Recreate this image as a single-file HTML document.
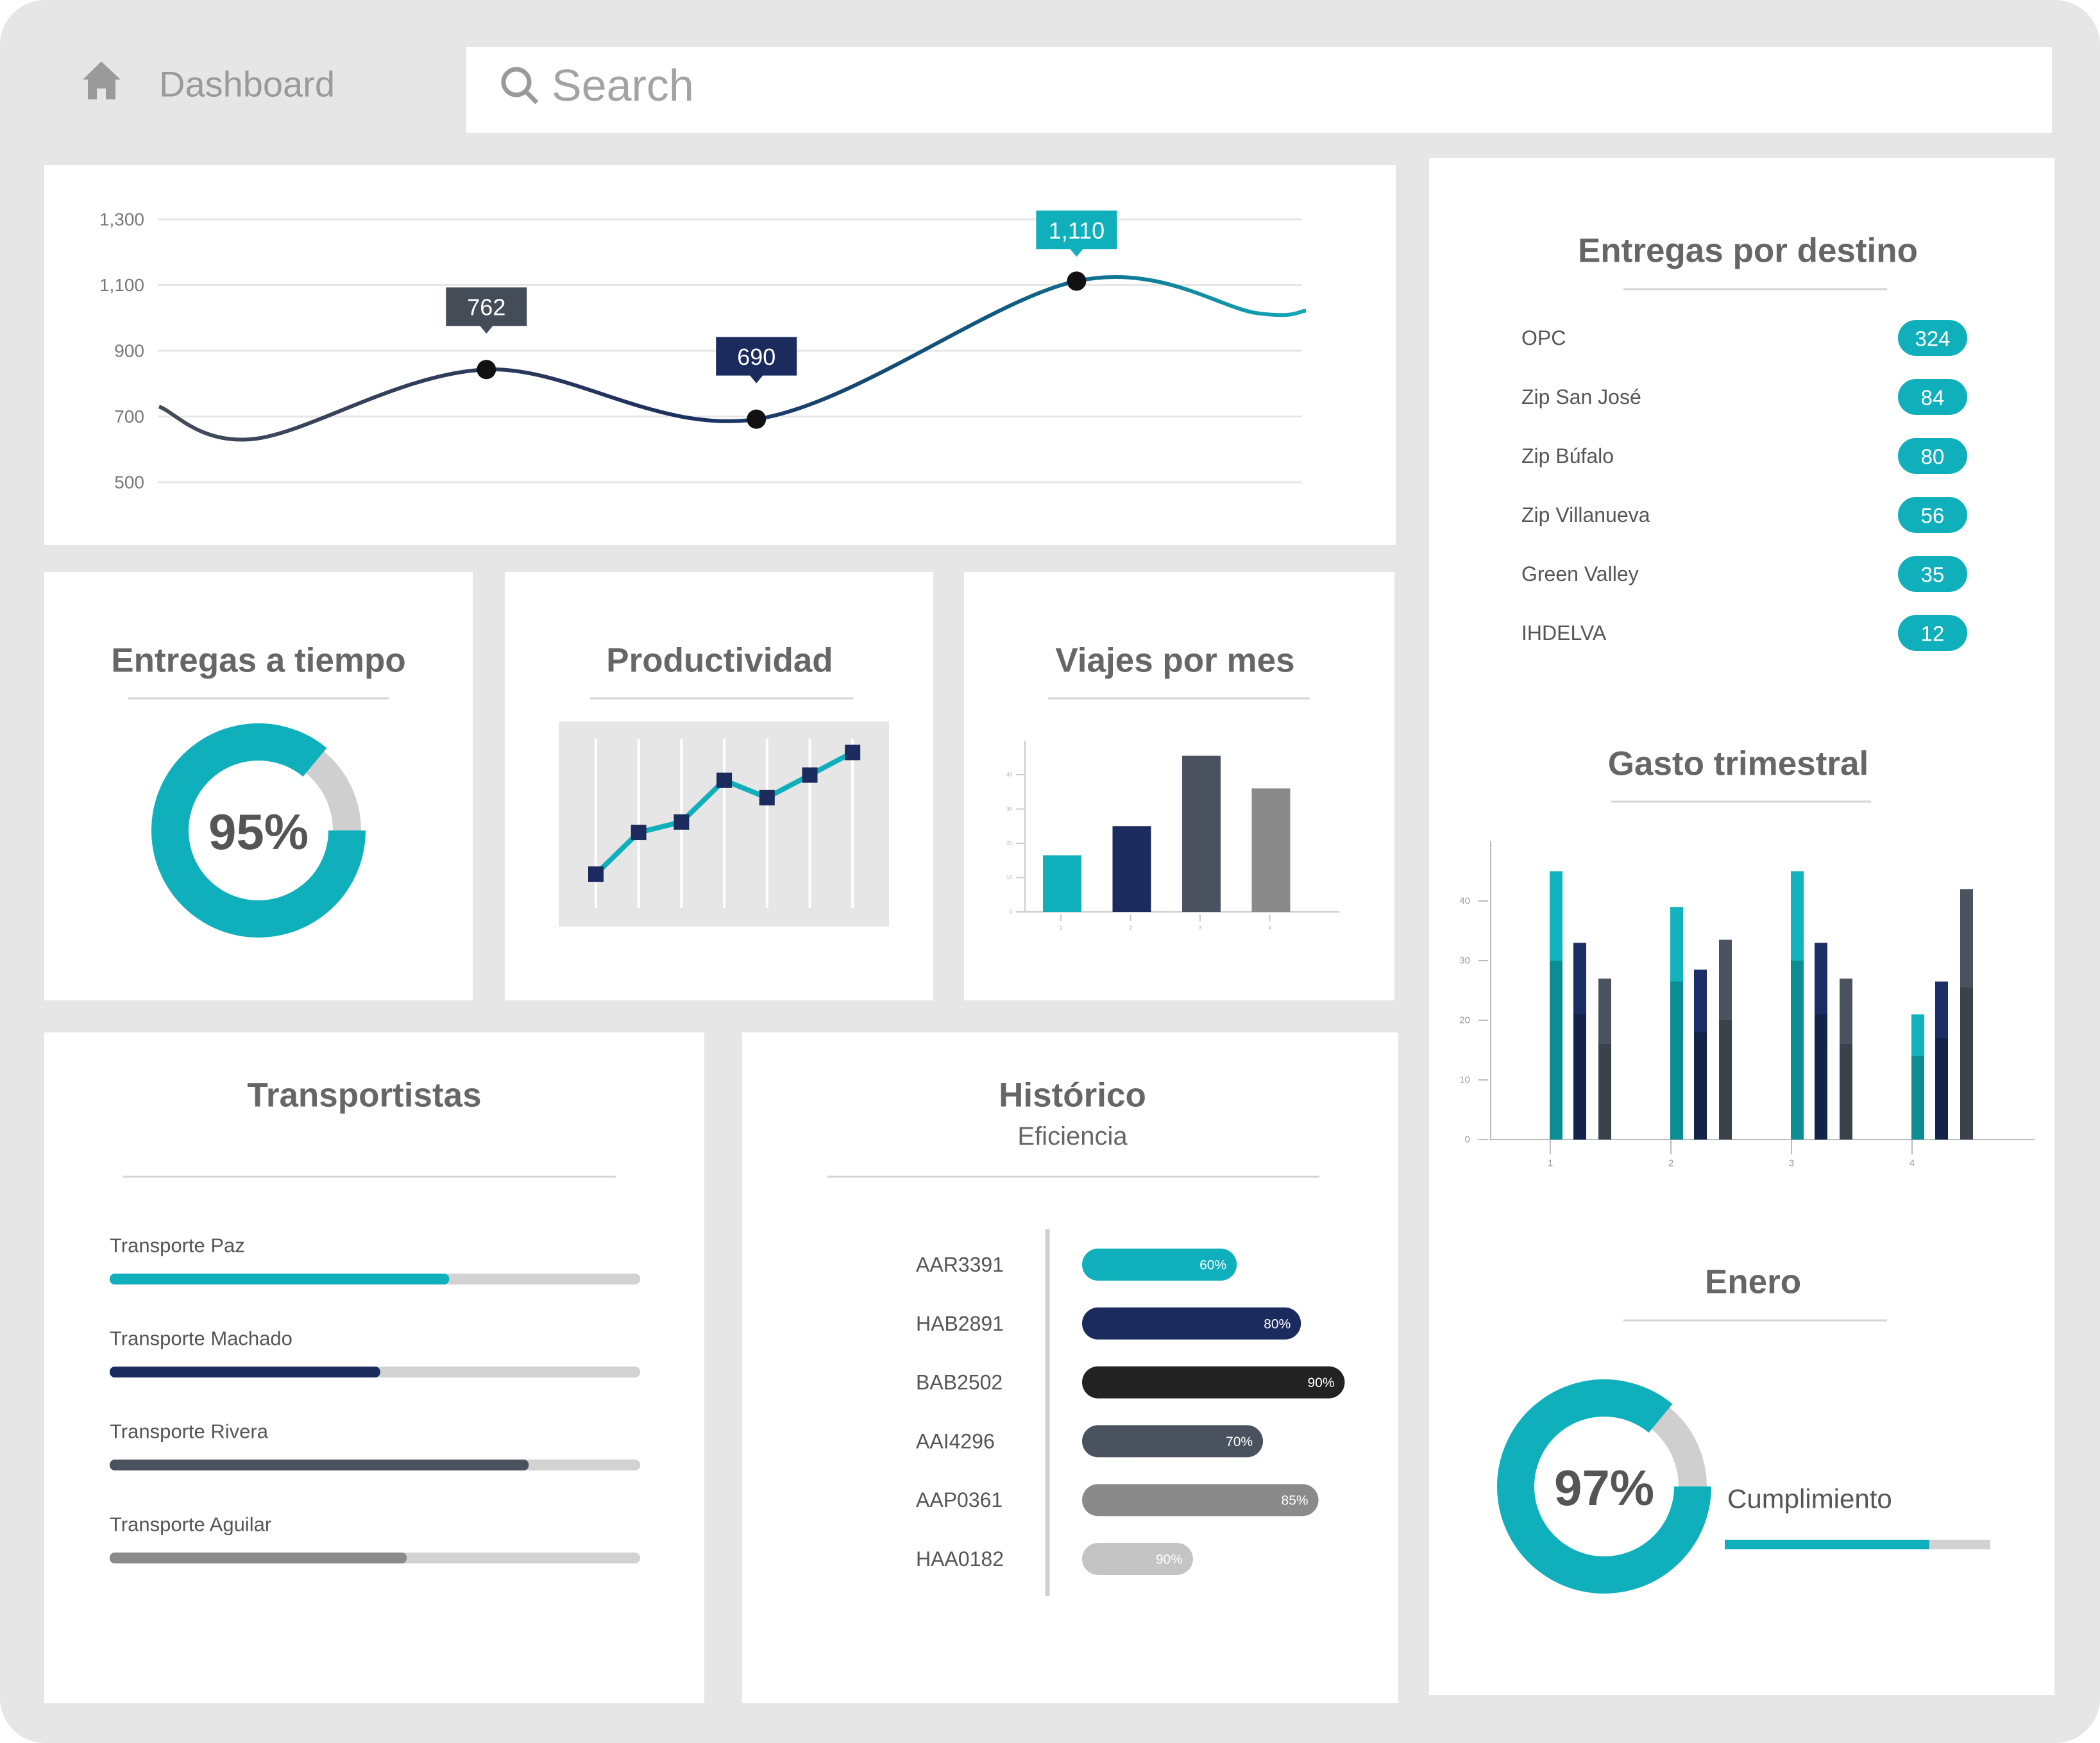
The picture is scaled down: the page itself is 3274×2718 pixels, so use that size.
<!DOCTYPE html>
<html><head><meta charset="utf-8"><style>
html,body{margin:0;padding:0;background:#fff;}
svg{display:block;font-family:"Liberation Sans",sans-serif;}
</style></head><body>
<svg id="root" width="3274" height="2718" viewBox="0 0 3274 2718" xmlns="http://www.w3.org/2000/svg">
<defs>
<linearGradient id="lineGrad" x1="0" x2="1" y1="0" y2="0">
<stop offset="0" stop-color="#444c58"/><stop offset="0.45" stop-color="#1d2f5e"/><stop offset="0.75" stop-color="#0f5d82"/><stop offset="1" stop-color="#12a9b8"/>
</linearGradient>
</defs>
<rect x="0" y="0" width="3274" height="2718" rx="70" fill="#e6e6e6"/>
<g>
<path d="M129 124 L158 96 L188 124 L180 124 L180 155 L165 155 L165 138 L151 138 L151 155 L137 155 L137 124 Z" fill="#9a9a9a"/>
</g>
<text x="248" y="131" font-size="56" fill="#9a9a9a" dominant-baseline="central">Dashboard</text>
<rect x="727" y="73" width="2472" height="134" fill="#fff"/>
<g stroke="#9a9a9a" stroke-width="7" fill="none">
<circle cx="805" cy="128" r="20"/><line x1="819" y1="142" x2="837" y2="160"/>
</g>
<text x="860" y="133" font-size="70" fill="#a3a3a3" dominant-baseline="central">Search</text>

<rect x="69" y="257" width="2107" height="593" fill="#fff"/>
<rect x="2228" y="246" width="975" height="2397" fill="#fff"/>
<rect x="69" y="892" width="668" height="668" fill="#fff"/>
<rect x="787" y="892" width="668" height="668" fill="#fff"/>
<rect x="1503" y="892" width="671" height="668" fill="#fff"/>
<rect x="69" y="1610" width="1029" height="1046" fill="#fff"/>
<rect x="1157" y="1610" width="1023" height="1046" fill="#fff"/>

<g id="lineChart"></g>

<g font-weight="bold" fill="#666" font-size="53" text-anchor="middle">
<text x="403" y="1030" dominant-baseline="central">Entregas a tiempo</text>
<text x="1122" y="1030" dominant-baseline="central">Productividad</text>
<text x="1832" y="1030" dominant-baseline="central">Viajes por mes</text>
<text x="568" y="1708" dominant-baseline="central">Transportistas</text>
<text x="1672" y="1708" dominant-baseline="central">Histórico</text>
<text x="2725" y="391" dominant-baseline="central">Entregas por destino</text>
<text x="2710" y="1191" dominant-baseline="central">Gasto trimestral</text>
<text x="2733" y="1999" dominant-baseline="central">Enero</text>
</g>
<text x="1672" y="1772" font-size="40" fill="#666" text-anchor="middle" dominant-baseline="central">Eficiencia</text>
<g stroke="#d4d4d4" stroke-width="3">
<line x1="200" y1="1089" x2="606" y2="1089"/>
<line x1="920" y1="1089" x2="1330" y2="1089"/>
<line x1="1634" y1="1089" x2="2042" y2="1089"/>
<line x1="192" y1="1835" x2="960" y2="1835"/>
<line x1="1290" y1="1835" x2="2057" y2="1835"/>
<line x1="2531" y1="451" x2="2942" y2="451"/>
<line x1="2512" y1="1250" x2="2917" y2="1250"/>
<line x1="2531" y1="2059" x2="2942" y2="2059"/>
</g>

<g id="donuts"></g>
<rect x="871" y="1125" width="515" height="320" fill="#e6e6e6"/>
<g id="prod"></g>
<g id="viajes"></g>
<g id="transp"></g>
<g id="hist"></g>
<g id="destino"></g>
<g id="gasto"></g>
<text x="2693" y="2337" font-size="42" fill="#555" dominant-baseline="central">Cumplimiento</text>
<g id="cumpl"></g>
</svg>
<script>
const lineXs = [0, 2, 6.85, 12.5, 19.2, 23.0, 24];
const lineValues = [730, 632, 843, 692, 1112, 1014, 1022];
const lineTicks = [500, 700, 900, 1100, 1300];
const lineTickLabels = ["500", "700", "900", "1,100", "1,300"];
const calloutIdx = [2, 3, 4];
const calloutLabels = ["762", "690", "1,110"];

const prodValues = [2.1, 4.5, 5.1, 7.5, 6.5, 7.8, 9.1];

const viajesCats = ["1", "2", "3", "4"];
const viajesValues = [16.5, 25, 45.5, 36];
const viajesTicks = [0, 10, 20, 30, 40];

const transpNames = ["Transporte Paz", "Transporte Machado", "Transporte Rivera", "Transporte Aguilar"];
const transpValues = [64, 51, 79, 56];

const histCodes = ["AAR3391", "HAB2891", "BAB2502", "AAI4296", "AAP0361", "HAA0182"];
const histLabels = ["60%", "80%", "90%", "70%", "85%", "90%"];
const histFill = [53, 75, 90, 62, 81, 38];

const destNames = ["OPC", "Zip San José", "Zip Búfalo", "Zip Villanueva", "Green Valley", "IHDELVA"];
const destValues = [324, 84, 80, 56, 35, 12];

const gastoCats = ["1", "2", "3", "4"];
const gastoS1 = [45, 39, 45, 21];
const gastoS2 = [33, 28.5, 33, 26.5];
const gastoS3 = [27, 33.5, 27, 42];
const gastoBase1 = [30, 26.5, 30, 14];
const gastoBase2 = [21, 18, 21, 17];
const gastoBase3 = [16, 20, 16, 25.5];
const gastoTicks = [0, 10, 20, 30, 40];

const donutLabels = ["95%", "97%"];
const donutShares = [0.86, 0.86];
const cumplValue = 77;

const NS = "http://www.w3.org/2000/svg";
function mk(parent, tag, attrs) {
  const e = document.createElementNS(NS, tag);
  for (const k in attrs) e.setAttribute(k, attrs[k]);
  parent.appendChild(e);
  return e;
}
const TEAL = "#10afbc", NAVY = "#1b2b5e", SLATE = "#4a525f", GRAY = "#8a8a8a";

(function () {
  const g = document.getElementById("lineChart");
  const xS = d => 248 + d / 24 * (2036 - 248);
  const yS = v => 752 - (v - 500) / 800 * (752 - 342);
  lineTicks.forEach((t, i) => {
    const l = mk(g, "line", { x1: 246, x2: 2030, y1: yS(t), y2: yS(t), stroke: "#e6e6e6", "stroke-width": 3 });
    
    
    const tx = mk(g, "text", { x: 225, y: yS(t), "font-size": 28, fill: "#777", "text-anchor": "end", "dominant-baseline": "central" });
    tx.textContent = lineTickLabels[i];
    
    
  });
  const P = lineXs.map((d, i) => [xS(d), yS(lineValues[i])]);
  let d = "M" + P[0][0] + " " + P[0][1];
  for (let i = 0; i < P.length - 1; i++) {
    const p0 = P[Math.max(0, i - 1)], p1 = P[i], p2 = P[i + 1], p3 = P[Math.min(P.length - 1, i + 2)];
    const c1 = [p1[0] + (p2[0] - p0[0]) / 6, p1[1] + (p2[1] - p0[1]) / 6];
    const c2 = [p2[0] - (p3[0] - p1[0]) / 6, p2[1] - (p3[1] - p1[1]) / 6];
    d += ` C${c1[0]} ${c1[1]} ${c2[0]} ${c2[1]} ${p2[0]} ${p2[1]}`;
  }
  const path = mk(g, "path", { d: d, fill: "none", stroke: "url(#lineGrad)", "stroke-width": 6 });
  
  
  const cols = ["#444c58", NAVY, TEAL];
  const gaps = [128, 128, 110];
  calloutIdx.forEach((idx, k) => {
    const [x, y] = P[idx];
    const dot = mk(g, "circle", { cx: x, cy: y, r: 15, fill: "#111" });
    
    
    const by = y - gaps[k];
    const box = mk(g, "path", { d: `M${x - 63} ${by} h126 v60 h-53 l-10 12 l-10 -12 h-53 Z`, fill: cols[k] });
    
    
    const t = mk(g, "text", { x: x, y: by + 31, "font-size": 36, fill: "#fff", "text-anchor": "middle", "dominant-baseline": "central" });
    t.textContent = calloutLabels[k];
    
    
  });
})();

(function () {
  const g = document.getElementById("donuts");
  const centers = [[403, 1295], [2501, 2318]];
  centers.forEach((c, i) => {
    const [cx, cy] = c, r = 138;
    const bg = mk(g, "circle", { cx, cy, r: r, fill: "none", stroke: "#cfcfcf", "stroke-width": 44 });
    
    
    const a = donutShares[i] * 2 * Math.PI;
    const large = donutShares[i] > 0.5 ? 1 : 0;
    const ex2 = cx + r * Math.cos(a), ey2 = cy + r * Math.sin(a);
    const arc = mk(g, "path", { d: `M${cx + r} ${cy} A${r} ${r} 0 ${large} 1 ${ex2} ${ey2}`, fill: "none", stroke: TEAL, "stroke-width": 58 });
    
    
    const t = mk(g, "text", { x: cx, y: cy + 2, "font-size": 78, "font-weight": "bold", fill: "#555", "text-anchor": "middle", "dominant-baseline": "central" });
    t.textContent = donutLabels[i];
    
    
  });
})();

(function () {
  const g = document.getElementById("prod");
  const xS = i => 929 + i * 66.7;
  const yS = v => 1420 - v / 10 * 271;
  prodValues.forEach((v, i) => {
    const l = mk(g, "line", { x1: xS(i), x2: xS(i), y1: 1152, y2: 1416, stroke: "#fff", "stroke-width": 4 });
    
    
  });
  const pl = mk(g, "polyline", { points: prodValues.map((v, i) => xS(i) + "," + yS(v)).join(" "), fill: "none", stroke: TEAL, "stroke-width": 8 });
  
  
  prodValues.forEach((v, i) => {
    const s = mk(g, "rect", { x: xS(i) - 12, y: yS(v) - 12, width: 24, height: 24, fill: NAVY });
    
    
  });
})();

(function () {
  const g = document.getElementById("viajes");
  const yS = v => 1422 - v / 10 * 53.5;
  const xS = i => 1656 + i * 108.5;
  const cols = [TEAL, NAVY, SLATE, GRAY];
  mk(g, "line", { x1: 1598, x2: 1598, y1: 1155, y2: 1422, stroke: "#ccc", "stroke-width": 2 });
  mk(g, "line", { x1: 1595, x2: 2088, y1: 1422, y2: 1422, stroke: "#ccc", "stroke-width": 2 });
  viajesTicks.forEach(t => {
    mk(g, "line", { x1: 1584, x2: 1596, y1: yS(t), y2: yS(t), stroke: "#ccc", "stroke-width": 2 });
    const tx = mk(g, "text", { x: 1578, y: yS(t), "font-size": 8, fill: "#aaa", "text-anchor": "end", "dominant-baseline": "central" });
    tx.textContent = t;
    
    
  });
  viajesValues.forEach((v, i) => {
    const b = mk(g, "rect", { x: xS(i) - 30, y: yS(v), width: 60, height: yS(0) - yS(v), fill: cols[i] });
    
    
    mk(g, "line", { x1: xS(i) - 2, x2: xS(i) - 2, y1: 1426, y2: 1436, stroke: "#ccc", "stroke-width": 2 });
    const tx = mk(g, "text", { x: xS(i) - 2, y: 1447, "font-size": 8, fill: "#aaa", "text-anchor": "middle", "dominant-baseline": "central" });
    tx.textContent = viajesCats[i];
    
    
  });
})();

(function () {
  const g = document.getElementById("transp");
  const cols = [TEAL, NAVY, SLATE, GRAY];
  transpNames.forEach((n, i) => {
    const y0 = 1942 + i * 145;
    const t = mk(g, "text", { x: 171, y: y0, "font-size": 31, fill: "#555", "dominant-baseline": "central" });
    t.textContent = n;
    
    
    const tr = mk(g, "rect", { x: 171, y: y0 + 44, width: 827, height: 17, rx: 8, fill: "#d2d2d2" });
    
    
    const f = mk(g, "rect", { x: 171, y: y0 + 44, width: 827 * transpValues[i] / 100, height: 17, rx: 8, fill: cols[i] });
    
    
  });
})();

(function () {
  const g = document.getElementById("hist");
  const cols = [TEAL, NAVY, "#222", SLATE, GRAY, "#c4c4c4"];
  const dv = mk(g, "line", { x1: 1633, x2: 1633, y1: 1917, y2: 2489, stroke: "#cfcfcf", "stroke-width": 7 });
  
  
  histCodes.forEach((c, i) => {
    const y = 1972 + i * 91.8;
    const t = mk(g, "text", { x: 1428, y: y, "font-size": 32, fill: "#555", "dominant-baseline": "central" });
    t.textContent = c;
    
    
    const w = histFill[i] * 4.55;
    const b = mk(g, "rect", { x: 1687, y: y - 25, width: w, height: 50, rx: 25, fill: cols[i] });
    
    
    const v = mk(g, "text", { x: 1687 + w - 16, y: y + 1, "font-size": 21, fill: "#fff", "text-anchor": "end", "dominant-baseline": "central" });
    v.textContent = histLabels[i];
    
    
  });
})();

(function () {
  const g = document.getElementById("destino");
  destNames.forEach((n, i) => {
    const y = 527 + i * 92;
    const t = mk(g, "text", { x: 2372, y: y, "font-size": 32, fill: "#555", "dominant-baseline": "central" });
    t.textContent = n;
    
    
    const p = mk(g, "rect", { x: 2959, y: y - 28, width: 108, height: 56, rx: 28, fill: TEAL });
    
    
    const v = mk(g, "text", { x: 3013, y: y + 1, "font-size": 33, fill: "#fff", "text-anchor": "middle", "dominant-baseline": "central" });
    v.textContent = destValues[i];
    
    
  });
})();

(function () {
  const g = document.getElementById("gasto");
  const yS = v => 1777 - v / 10 * 93;
  const xS = i => 2417 + i * 188;
  mk(g, "line", { x1: 2324, x2: 2324, y1: 1311, y2: 1777, stroke: "#bbb", "stroke-width": 2 });
  mk(g, "line", { x1: 2322, x2: 3172, y1: 1777, y2: 1777, stroke: "#bbb", "stroke-width": 2 });
  gastoTicks.forEach(t => {
    mk(g, "line", { x1: 2305, x2: 2320, y1: yS(t), y2: yS(t), stroke: "#bbb", "stroke-width": 2 });
    const tx = mk(g, "text", { x: 2292, y: yS(t), "font-size": 15, fill: "#999", "text-anchor": "end", "dominant-baseline": "central" });
    tx.textContent = t;
    
    
  });
  const series = [[gastoS1, gastoBase1, "#12b3bf", "#0a8e93", 9], [gastoS2, gastoBase2, "#1b2f66", "#13234a", 46], [gastoS3, gastoBase3, "#4b5361", "#3b424c", 85]];
  gastoCats.forEach((c, i) => {
    series.forEach(s => {
      const x = xS(i) + s[4] - 10;
      const top = mk(g, "rect", { x: x, y: yS(s[0][i]), width: 20, height: yS(0) - yS(s[0][i]), fill: s[2] });
      
      
      const base = mk(g, "rect", { x: x, y: yS(s[1][i]), width: 20, height: yS(0) - yS(s[1][i]), fill: s[3] });
      
      
    });
    mk(g, "line", { x1: xS(i), x2: xS(i), y1: 1777, y2: 1800, stroke: "#bbb", "stroke-width": 2 });
    const tx = mk(g, "text", { x: xS(i), y: 1814, "font-size": 15, fill: "#999", "text-anchor": "middle", "dominant-baseline": "central" });
    tx.textContent = c;
    
    
  });
})();

(function () {
  const g = document.getElementById("cumpl");
  const tr = mk(g, "rect", { x: 2689, y: 2401, width: 414, height: 15, fill: "#d2d2d2" });
  
  
  const f = mk(g, "rect", { x: 2689, y: 2401, width: 414 * cumplValue / 100, height: 15, fill: TEAL });
  
  
})();
</script>
</body></html>
